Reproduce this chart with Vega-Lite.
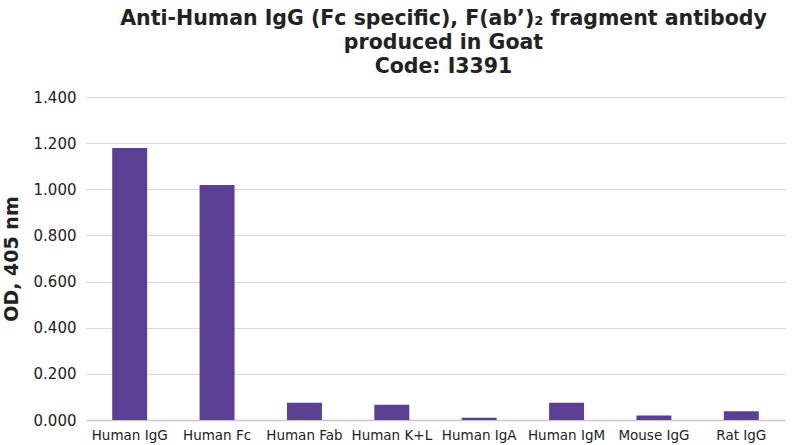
{
  "$schema": "https://vega.github.io/schema/vega-lite/v6.json",
  "autosize": {"type": "none"},
  "width": 699,
  "height": 323,
  "padding": {"left": 86, "top": 97, "right": 15, "bottom": 25},
  "background": "white",
  "title": {
    "text": ["Anti-Human IgG (Fc specific), F(ab’)₂ fragment antibody", "produced in Goat", "Code: I3391"],
    "font": "DejaVu Sans",
    "fontSize": 20.5,
    "fontWeight": "bold",
    "color": "#222222",
    "lineHeight": 24,
    "anchor": "middle",
    "dx": 8,
    "offset": 13
  },
  "data": {
    "values": [
      {"sample": "Human IgG", "od": 1.179},
      {"sample": "Human Fc", "od": 1.019},
      {"sample": "Human Fab", "od": 0.075},
      {"sample": "Human K+L", "od": 0.066},
      {"sample": "Human IgA", "od": 0.010},
      {"sample": "Human IgM", "od": 0.075},
      {"sample": "Mouse IgG", "od": 0.019},
      {"sample": "Rat IgG", "od": 0.038}
    ]
  },
  "mark": {"type": "bar", "color": "#5b3f94"},
  "encoding": {
    "x": {
      "field": "sample",
      "type": "nominal",
      "sort": null,
      "scale": {"paddingInner": 0.6, "paddingOuter": 0.3},
      "axis": {
        "title": null,
        "labelAngle": 0,
        "labelFont": "DejaVu Sans",
        "labelFontSize": 13.5,
        "labelColor": "#222222",
        "ticks": false,
        "labelPadding": 8,
        "domainColor": "#c8c8c8",
        "domainWidth": 1.5
      }
    },
    "y": {
      "field": "od",
      "type": "quantitative",
      "scale": {"domain": [0, 1.4]},
      "axis": {
        "title": "OD, 405 nm",
        "titleFont": "DejaVu Sans",
        "titleFontSize": 19,
        "titleFontWeight": "bold",
        "titleColor": "#222222",
        "titlePadding": 12,
        "values": [0, 0.2, 0.4, 0.6, 0.8, 1.0, 1.2, 1.4],
        "format": ".3f",
        "labelFont": "DejaVu Sans",
        "labelFontSize": 15,
        "labelColor": "#222222",
        "labelPadding": 10,
        "ticks": false,
        "domain": false,
        "grid": true,
        "gridColor": "#d9d9d9"
      }
    }
  },
  "config": {"view": {"stroke": null}}
}
